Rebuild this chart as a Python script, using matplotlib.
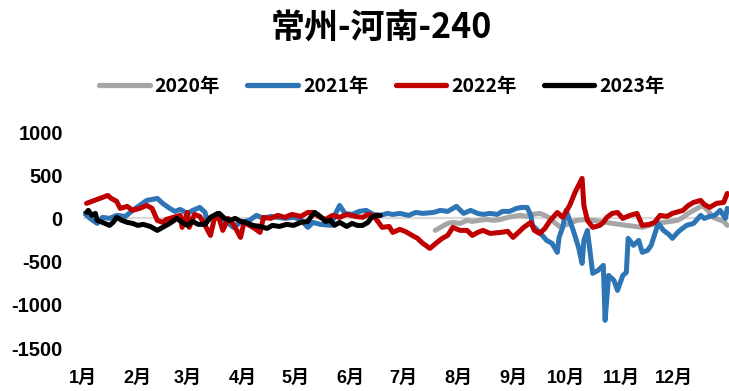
import matplotlib
matplotlib.use("Agg")
import matplotlib.pyplot as plt
from matplotlib.lines import Line2D

# Day-of-year positions and spread values for each year
days_2020 = [199, 202, 206, 209, 213, 217, 220, 224, 228, 232, 236, 240, 243, 247, 251, 254,
             258, 261, 264, 267, 270, 272, 275, 279, 284, 288, 292, 296, 299, 303, 307, 312,
             316, 320, 324, 328, 332, 336, 339, 342, 345, 348, 350, 353, 356, 359, 362, 364]
vals_2020 = [-139, -104, -58, -46, -58, -23, -35, -23, -12, -23, -12, 12, 23, 35, 23, 46,
             58, 35, 0, -58, -104, -81, -58, -23, -12, -23, -35, -46, -58, -69, -81, -93,
             -104, -81, -58, -46, -35, -23, 12, 58, 93, 127, 150, 93, 12, -12, -35, -81]

days_2021 = [1, 4, 8, 11, 15, 19, 24, 28, 32, 36, 42, 45, 49, 52, 55, 59, 62, 66, 69, 70,
             73, 76, 80, 85, 89, 94, 98, 102, 106, 110, 114, 119, 123, 127, 130, 134, 140,
             143, 145, 148, 152, 156, 160, 164, 168, 172, 175, 179, 184, 188, 192, 198, 202,
             206, 208, 211, 215, 219, 223, 226, 230, 234, 237, 241, 245, 248, 251, 253, 254,
             258, 262, 265, 268, 269, 271, 273, 277, 280, 282, 283, 285, 288, 291, 294, 295,
             297, 300, 302, 305, 307, 308, 311, 314, 316, 319, 321, 325, 328, 331, 333, 336,
             338, 341, 345, 349, 351, 354, 357, 360, 363, 364]
vals_2021 = [58, 0, -58, 12, 0, 35, 23, 93, 150, 208, 231, 174, 116, 81, 104, 58, 93, 127, 69, -23,
             12, 46, -23, -104, -46, -23, 35, 0, 23, 12, 0, 12, -12, -104, -46, -69, -81,
             69, 150, 58, 46, 81, 93, 46, 35, 58, 46, 58, 35, 69, 58, 69, 93,
             81, 104, 139, 58, 93, 58, 46, 58, 46, 81, 81, 116, 127, 127, 35, -81,
             -162, -255, -289, -393, -220, -104, 93, -139, -336, -521, -255, -139, -636, -602, -544, -1180,
             -660, -718, -833, -660, -625, -231, -312, -255, -393, -370, -312, -58, -139, -185, -231, -162,
             -127, -81, -58, 35, 0, 23, 35, 93, 0, 116]

days_2022 = [2, 8, 14, 16, 19, 21, 25, 28, 32, 36, 39, 42, 45, 47, 51, 55, 56, 59, 60, 63,
             66, 69, 72, 74, 76, 79, 82, 85, 89, 91, 94, 97, 100, 102, 106, 110, 114, 118,
             123, 127, 130, 133, 137, 141, 145, 149, 154, 158, 161, 164, 167, 169, 173, 175,
             179, 182, 186, 189, 192, 196, 200, 203, 206, 209, 213, 217, 220, 223, 226, 230,
             236, 240, 243, 246, 249, 253, 255, 258, 261, 264, 268, 271, 275, 278, 282, 283,
             285, 288, 292, 294, 296, 299, 302, 305, 309, 313, 316, 320, 323, 326, 330, 333,
             337, 339, 342, 345, 349, 351, 354, 358, 362, 364]
vals_2022 = [174, 220, 266, 231, 197, 116, 139, 93, 116, 150, 116, -23, -46, -12, 12, 35, -104, 69, -104, 46,
             23, -81, -197, -23, 58, -139, 0, -69, -220, -46, -81, -116, -162, 12, 0, 35, 12, 46,
             23, 69, 69, 23, -12, 35, 12, 46, 23, 12, 46, 35, -46, -104, -93, -162,
             -127, -150, -197, -231, -289, -347, -278, -231, -197, -104, -139, -139, -197, -162, -139, -174,
             -162, -150, -220, -162, -104, -46, -139, -174, -116, -23, 69, 12, 150, 301, 463, 150,
             -23, -104, -81, -46, 12, 58, 69, 0, 35, 58, -81, -69, -46, 35, 23, 58,
             81, 93, 150, 185, 208, 162, 127, 174, 185, 289]

days_2023 = [2, 3, 5, 7, 8, 11, 15, 17, 19, 22, 25, 28, 31, 34, 38, 42, 45, 49, 53, 56,
             59, 62, 65, 69, 72, 75, 77, 80, 83, 86, 89, 92, 96, 100, 104, 107, 111, 115,
             119, 123, 127, 129, 131, 134, 137, 140, 142, 145, 149, 152, 155, 158, 161, 163,
             166, 168]
vals_2023 = [69, 93, 35, 58, -23, -46, -81, -46, 12, -23, -46, -58, -81, -69, -93, -139, -104, -58, 0, -46,
             -81, -35, -69, -69, 12, 46, 58, 0, -23, 0, -35, -46, -81, -93, -116, -81, -93, -69,
             -81, -46, -35, 23, 69, 23, -35, -23, -81, -46, -93, -58, -81, -81, -46, 12,
             35, 35]

series_labels = ["2020年", "2021年", "2022年", "2023年"]
series_colors = ["#A6A6A6", "#2E75B6", "#C00000", "#000000"]

month_starts = [0, 31, 59, 90, 120, 151, 181, 212, 243, 273, 304, 334]
month_labels = ["1月", "2月", "3月", "4月", "5月", "6月",
                "7月", "8月", "9月", "10月", "11月", "12月"]
y_ticks = [1000, 500, 0, -500, -1000, -1500]

cjk = ["Noto Sans CJK SC", "DejaVu Sans"]
latin_cjk = ["Liberation Sans", "Noto Sans CJK SC", "DejaVu Sans"]

W, H = 729, 391
fig = plt.figure(figsize=(W / 100, H / 100), dpi=100)
ax = fig.add_axes([83 / W, (H - 348) / H, (729 - 83) / W, (348 - 132) / H])

ax.axhline(0, color="#D9D9D9", lw=1.6, zorder=1)

xs = [days_2020, days_2021, days_2022, days_2023]
ys = [vals_2020, vals_2021, vals_2022, vals_2023]
for d, v, c, lab in zip(xs, ys, series_colors, series_labels):
    ax.plot(d, v, color=c, lw=3.6, solid_joinstyle="round", solid_capstyle="round",
            label=lab, zorder=2, clip_on=True)

ax.set_xlim(0, 365)
ax.set_ylim(-1500, 1000)
ax.set_yticks(y_ticks)
ax.set_yticklabels([str(t) for t in y_ticks])
ax.set_xticks(month_starts)
ax.set_xticklabels(month_labels)
ax.tick_params(axis="both", length=0)
ax.tick_params(axis="y", pad=14.5)
ax.tick_params(axis="x", pad=15.5)
for lbl in ax.get_yticklabels():
    lbl.set_family(latin_cjk)
    lbl.set_fontweight("bold")
    lbl.set_fontsize(14.5)
for lbl in ax.get_xticklabels():
    lbl.set_family(latin_cjk)
    lbl.set_fontweight("bold")
    lbl.set_fontsize(13)
for s in ax.spines.values():
    s.set_visible(False)

fig.text(381 / W, 1 - 28 / H, "常州-河南-240", ha="center", va="center",
         family=cjk, fontweight="bold", fontsize=24.5)

handles = [Line2D([], [], color=c, lw=3.8, solid_capstyle="round") for c in series_colors]
leg = fig.legend(handles, series_labels, loc="center",
                 bbox_to_anchor=(382 / W, 1 - 86 / H), ncol=4, frameon=False,
                 handlelength=2.6, handletextpad=0.25, columnspacing=1.4,
                 prop={"family": cjk, "weight": "bold", "size": 14})

fig.savefig("out.png", dpi=100)
